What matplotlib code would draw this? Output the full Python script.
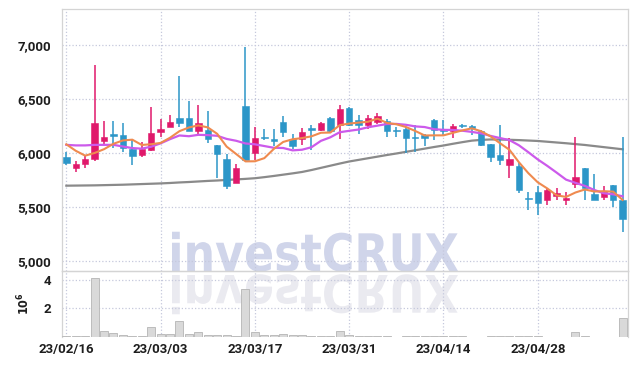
import numpy as np
import matplotlib
matplotlib.use("Agg")
import matplotlib.pyplot as plt
from matplotlib.textpath import TextPath
from matplotlib.patches import PathPatch
from matplotlib.font_manager import FontProperties
from matplotlib.transforms import Affine2D

plt.rcParams['font.family'] = ['Liberation Sans Narrow', 'DejaVu Sans Condensed', 'Roboto', 'DejaVu Sans']
plt.rcParams['font.stretch'] = 'condensed'
plt.rcParams['font.weight'] = 'semibold'

# daily candles (KRW)
opens = [5965, 5865, 5900, 5940, 6115, 6170, 6170, 6040, 5985, 6030,
         6190, 6245, 6320, 6325, 6205, 6215, 6075, 5945, 5725, 6435,
         6000, 6140, 6125, 6285, 6130, 6130, 6220, 6215, 6325, 6260,
         6420, 6305, 6260, 6290, 6300, 6205, 6220, 6140, 6165, 6305,
         6225, 6200, 6255, 6250, 6200, 6085, 5980, 5890, 5875, 5575,
         5640, 5560, 5600, 5560, 5715, 5860, 5620, 5595, 5705, 5565]
highs = [6010, 5925, 5970, 6810, 6300, 6300, 6280, 6120, 6105, 6430,
         6310, 6350, 6710, 6480, 6440, 6390, 6075, 5990, 5895, 6980,
         6245, 6220, 6220, 6345, 6180, 6235, 6260, 6285, 6330, 6445,
         6425, 6350, 6350, 6370, 6310, 6245, 6245, 6260, 6180, 6315,
         6305, 6270, 6270, 6260, 6210, 6085, 6260, 6135, 5905, 5640,
         5690, 5680, 5675, 5635, 6145, 5860, 5805, 5690, 5705, 6145]
lows = [5890, 5825, 5860, 5930, 6070, 6050, 6010, 5890, 5960, 6020,
        6150, 6240, 6240, 6200, 6165, 6090, 5765, 5670, 5720, 5930,
        5935, 6120, 6065, 6150, 6035, 6075, 6030, 6205, 6195, 6130,
        6250, 6180, 6220, 6270, 6150, 6150, 6000, 6010, 6060, 6120,
        6165, 6135, 6230, 6170, 6065, 5920, 5890, 5765, 5625, 5470,
        5425, 5520, 5565, 5520, 5675, 5565, 5560, 5560, 5495, 5270]
closes = [5910, 5895, 5940, 6280, 6150, 6160, 6050, 5975, 6035, 6185,
          6220, 6290, 6280, 6205, 6280, 6130, 5990, 5690, 5865, 5935,
          6135, 6135, 6115, 6190, 6060, 6190, 6215, 6280, 6200, 6405,
          6260, 6260, 6320, 6345, 6205, 6200, 6135, 6135, 6135, 6210,
          6200, 6250, 6250, 6230, 6075, 5960, 5935, 5945, 5655, 5570,
          5535, 5655, 5625, 5580, 5775, 5675, 5560, 5640, 5560, 5390]
# volume in millions of shares
volumes = [0.05, 0.05, 0.05, 4.13, 0.42, 0.28, 0.14, 0.07, 0.07, 0.70,
           0.21, 0.21, 1.13, 0.21, 0.33, 0.14, 0.14, 0.14, 0.07, 3.38,
           0.33, 0.14, 0.14, 0.24, 0.14, 0.14, 0.07, 0.07, 0.07, 0.42,
           0.16, 0.09, 0.07, 0.07, 0.07, 0.03, 0.10, 0.07, 0.07, 0.10,
           0.07, 0.07, 0.07, 0.03, 0.03, 0.07, 0.10, 0.10, 0.10, 0.07,
           0.07, 0.01, 0.01, 0.01, 0.33, 0.07, 0.01, 0.01, 0.01, 1.30]
# moving averages as shown on the chart
ma_short = [6080, 6020, 5975, 6000, 6035, 6085, 6116, 6123, 6074, 6081,
            6093, 6141, 6202, 6236, 6255, 6237, 6177, 6059, 5991, 5922,
            5923, 5952, 6037, 6102, 6127, 6138, 6154, 6187, 6189, 6258,
            6272, 6281, 6289, 6318, 6278, 6266, 6241, 6204, 6162, 6163,
            6163, 6186, 6209, 6228, 6201, 6153, 6090, 6029, 5914, 5813,
            5728, 5672, 5608, 5593, 5634, 5662, 5643, 5646, 5642, 5565]
ma_mid = [6075, 6070, 6070, 6075, 6075, 6075, 6060, 6045, 6040, 6058,
          6089, 6128, 6162, 6155, 6168, 6165, 6159, 6130, 6113, 6088,
          6080, 6064, 6048, 6046, 6024, 6030, 6053, 6112, 6145, 6192,
          6205, 6217, 6238, 6253, 6268, 6269, 6261, 6246, 6240, 6220,
          6214, 6213, 6206, 6195, 6182, 6158, 6138, 6119, 6071, 6007,
          5940, 5881, 5818, 5753, 5723, 5695, 5657, 5627, 5617, 5599]
ma_long = [5697, 5698, 5699, 5700, 5702, 5704, 5706, 5709, 5712, 5715,
           5718, 5722, 5727, 5731, 5736, 5741, 5745, 5750, 5755, 5760,
           5766, 5776, 5787, 5799, 5811, 5824, 5842, 5862, 5882, 5902,
           5921, 5936, 5951, 5966, 5981, 5995, 6010, 6025, 6040, 6055,
           6069, 6085, 6100, 6114, 6121, 6125, 6124, 6122, 6119, 6115,
           6111, 6104, 6097, 6090, 6082, 6074, 6064, 6054, 6044, 6034]
tick_idx = [0, 10, 20, 30, 40, 50]
tick_labels = ['23/02/16', '23/03/03', '23/03/17', '23/03/31', '23/04/14', '23/04/28']

W, H = 635, 366
fig = plt.figure(figsize=(W / 100, H / 100), dpi=100)
fig.patch.set_facecolor('white')
ax = fig.add_axes([62 / W, 1 - 271 / H, 566 / W, 262 / H])
axv = fig.add_axes([62 / W, 1 - 337 / H, 566 / W, 66 / H], sharex=ax)
for a in (ax, axv):
    a.set_facecolor('none')

up_col = '#e0196b'
dn_col = '#2c96c8'
grid_col = '#c5c8dc'
txt_col = '#1e1e1e'

x = np.arange(len(closes))
o = np.array(opens)
c = np.array(closes)
cols = [up_col if cc >= oo else dn_col for oo, cc in zip(o, c)]

ax.vlines(x, lows, highs, colors=cols, linewidth=1.1, zorder=3)
body_bot = np.minimum(o, c)
body_h = np.maximum(np.abs(c - o), 12)
ax.bar(x, body_h, bottom=body_bot, width=0.68, color=cols, edgecolor=cols,
       linewidth=0.4, zorder=4)

ax.plot(x, ma_long, color='#8a8a8a', linewidth=1.6, zorder=2)
ax.plot(x, ma_mid, color='#cc5aeb', linewidth=1.6, zorder=5)
ax.plot(x, ma_short, color='#ef8a4f', linewidth=1.5, zorder=6)

ax.set_ylim(4907, 7333)
ax.set_xlim(-0.46, 59.57)
ax.set_yticks([5000, 5500, 6000, 6500, 7000])
ax.set_yticklabels(['5,000', '5,500', '6,000', '6,500', '7,000'])
ax.tick_params(axis='y', length=0, pad=8, labelsize=9.5, labelcolor=txt_col)
ax.tick_params(axis='x', length=0, labelbottom=False)
ax.set_xticks(tick_idx)
ax.grid(True, color=grid_col, linestyle=':', linewidth=0.9)
ax.set_axisbelow(True)
for s in ax.spines.values():
    s.set_color('#d4d4d4')
    s.set_linewidth(0.9)

# volume panel
axv.bar(x, volumes, width=0.85, color='#d9d9d9', edgecolor='#b5b5b5',
        linewidth=0.6, zorder=3)
axv.set_ylim(0, 4.63)
axv.set_yticks([2, 4])
axv.set_yticklabels(['2', '4'])
axv.set_xticks(tick_idx)
axv.set_xticklabels(tick_labels)
axv.tick_params(axis='both', length=0, labelsize=9.5, labelcolor=txt_col)
axv.tick_params(axis='y', pad=8)
axv.tick_params(axis='x', pad=4)
axv.grid(True, color=grid_col, linestyle=':', linewidth=0.9)
axv.set_axisbelow(True)
axv.set_ylabel('$10^6$', fontsize=9, color=txt_col, labelpad=8)
for k, s in axv.spines.items():
    s.set_color('#d4d4d4')
    s.set_linewidth(0.9)
axv.spines['bottom'].set_visible(False)

# watermark with its reflection
tp = TextPath((0, 0), 'investCRUX', size=1,
              prop=FontProperties(family='DejaVu Sans', weight='bold'))
bb = tp.get_extents()
sx = 286 / bb.width
sy = 40 / bb.height
x0 = 172 - bb.x0 * sx
base = H - 271
wm = PathPatch(tp, facecolor='#d0d5ea', edgecolor='none', zorder=-1,
               transform=Affine2D().scale(sx / W, sy / H).translate(x0 / W, base / H) + fig.transFigure)
fig.add_artist(wm)
refl = PathPatch(tp, facecolor='#eaeaf0', edgecolor='none', zorder=-1,
                 transform=Affine2D().scale(sx / W, -sy / H).translate(x0 / W, (base - 4) / H) + fig.transFigure)
fig.add_artist(refl)

fig.savefig('out.png', dpi=100)
